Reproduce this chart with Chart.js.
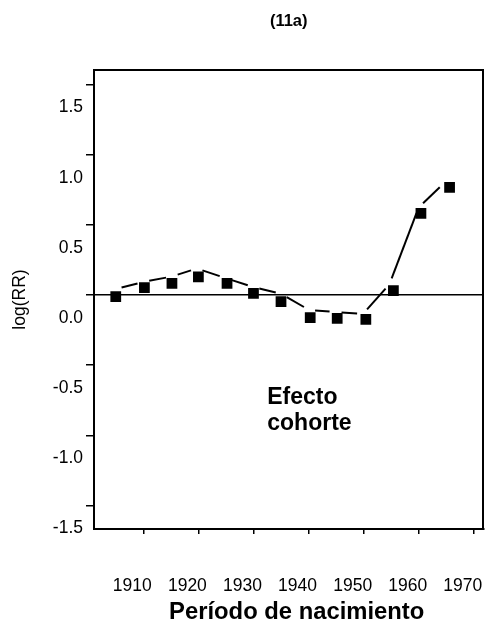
<!DOCTYPE html>
<html lang="es">
<head>
<meta charset="UTF-8">
<title>Efecto cohorte</title>
<script src="https://cdn.jsdelivr.net/npm/chart.js"></script>
<style>
  html, body { margin: 0; padding: 0; background: #fff; }
  #wrap { width: 491px; height: 640px; }
</style>
</head>
<body>
<div id="wrap"><canvas id="chart" width="491" height="640"></canvas></div>
<script>
// observed estimates (squares)
const periods = [1905, 1910.2, 1915.2, 1920, 1925.2, 1930, 1935, 1940.3, 1945.2, 1950.4, 1955.4, 1960.4, 1965.6];
const logRR = [-0.012, 0.052, 0.083, 0.130, 0.083, 0.012, -0.048, -0.162, -0.166, -0.173, 0.031, 0.582, 0.768];

// dashed curve
const curvePeriods = [1905, 1910, 1915.2, 1919.7, 1924.9, 1930, 1935.1, 1940.1, 1944.9, 1949.9, 1954.7, 1960, 1964.6];
const curveLogRR = [0.043, 0.093, 0.132, 0.189, 0.121, 0.057, 0.007, -0.107, -0.121, -0.135, 0.078, 0.625, 0.798];

const xTicks = [1910, 1920, 1930, 1940, 1950, 1960, 1970];
const yTicks = [-1.5, -1.0, -0.5, 0.0, 0.5, 1.0, 1.5];
const yTickLabels = ['-1.5', '-1.0', '-0.5', '0.0', '0.5', '1.0', '1.5'];

const noteLines = ['Efecto', 'cohorte'];
const noteAt = { x: 1932.5, y: [-0.73, -0.92] };
const xTitle = 'Período de nacimiento';

const FONT = "'Liberation Sans', Arial, sans-serif";
const GAP = 6;

const textPlugin = {
  id: 'texts',
  afterDraw(chart) {
    const ctx = chart.ctx, xs = chart.scales.x, ys = chart.scales.y, a = chart.chartArea;
    ctx.save();
    ctx.fillStyle = '#000';
    ctx.font = 'bold 23px ' + FONT;
    ctx.textAlign = 'left';
    ctx.textBaseline = 'middle';
    noteLines.forEach((t, i) => ctx.fillText(t, xs.getPixelForValue(noteAt.x), ys.getPixelForValue(noteAt.y[i])));
    // axis title, set a little right of the plot centre as in the source
    ctx.font = 'bold 23.8px ' + FONT;
    ctx.textAlign = 'center';
    ctx.fillText(xTitle, (a.left + a.right) / 2 + 8, a.bottom + 83);
    ctx.restore();
  }
};

new Chart(document.getElementById('chart'), {
  type: 'scatter',
  data: {
    datasets: [
      {
        label: 'curva',
        data: curvePeriods.map((p, i) => ({ x: p, y: curveLogRR[i] })),
        showLine: true,
        borderColor: '#000',
        borderWidth: 2,
        pointRadius: 0,
        segment: {
          // gaps at both ends of every segment
          borderDash: c => {
            const L = Math.hypot(c.p1.x - c.p0.x, c.p1.y - c.p0.y);
            return [0, GAP, Math.max(L - 2 * GAP, 0), L + 100];
          }
        }
      },
      {
        label: 'log(RR)',
        data: periods.map((p, i) => ({ x: p, y: logRR[i] })),
        showLine: false,
        pointStyle: 'rect',
        pointRadius: 7.6,
        backgroundColor: '#000',
        borderColor: '#000',
        borderWidth: 0
      }
    ]
  },
  options: {
    responsive: false,
    animation: false,
    layout: { padding: { left: 0, right: 2, top: 0, bottom: 0 } },
    plugins: {
      legend: { display: false },
      tooltip: { enabled: false },
      title: {
        display: true,
        text: '(11a)',
        fullSize: false,
        color: '#000',
        font: { family: FONT, size: 16.5, weight: 'bold' },
        padding: { top: 12, bottom: 38.2 }
      }
    },
    scales: {
      x: {
        type: 'linear',
        min: 1901.05,
        max: 1971.74,
        afterBuildTicks: s => { s.ticks = xTicks.map(v => ({ value: v })); },
        afterFit: s => { s.height = 111; s.paddingLeft = 0; s.paddingRight = 0; },
        ticks: {
          color: '#000',
          font: { family: FONT, size: 17.5 },
          labelOffset: -11,
          padding: 42,
          maxRotation: 0,
          callback: v => String(v)
        },
        grid: { drawOnChartArea: false, color: '#000', lineWidth: 1.5, tickLength: 5 },
        border: { color: '#000', width: 2 },
        title: { display: false }
      },
      y: {
        type: 'linear',
        min: -1.668,
        max: 1.604,
        afterBuildTicks: s => { s.ticks = yTicks.map(v => ({ value: v })); },
        afterFit: s => { s.width = 94; s.paddingTop = 0; s.paddingBottom = 0; },
        ticks: {
          color: '#000',
          font: { family: FONT, size: 17.5 },
          labelOffset: 23,
          padding: 3,
          callback: (v, i) => yTickLabels[i]
        },
        grid: {
          drawOnChartArea: true,
          color: c => (c.tick && c.tick.value === 0 ? '#000' : 'rgba(0,0,0,0)'),
          tickColor: '#000',
          lineWidth: 1.5,
          tickLength: 8
        },
        border: { color: '#000', width: 2 },
        title: {
          display: true,
          text: 'log(RR)',
          color: '#000',
          font: { family: FONT, size: 17.5 },
          padding: { top: 10, bottom: 0 }
        }
      },
      xTop: {
        type: 'linear',
        position: 'top',
        display: true,
        ticks: { display: false },
        grid: { display: false },
        border: { color: '#000', width: 2 },
        afterFit: s => { s.height = 0; }
      },
      yRight: {
        type: 'linear',
        position: 'right',
        display: true,
        ticks: { display: false },
        grid: { display: false },
        border: { color: '#000', width: 2 },
        afterFit: s => { s.width = 0; }
      }
    }
  },
  plugins: [textPlugin]
});
</script>
</body>
</html>
